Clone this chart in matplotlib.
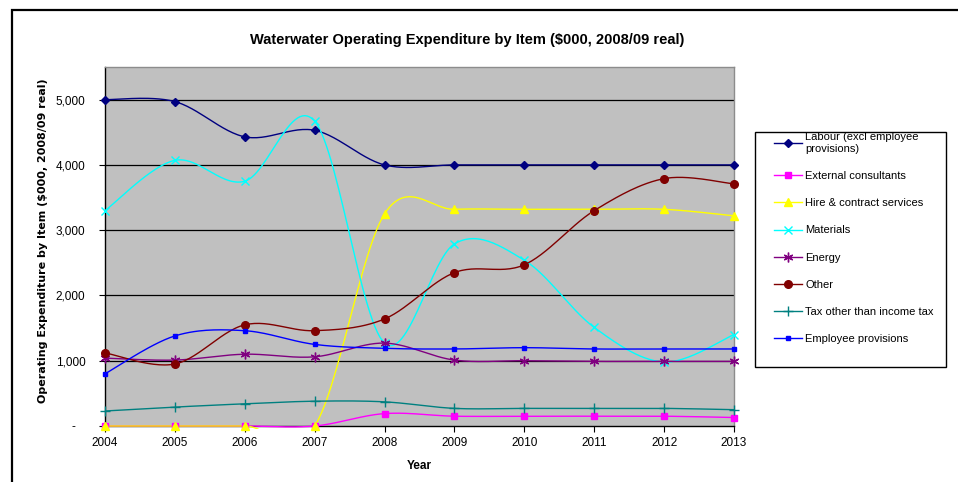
import numpy as np
import matplotlib
matplotlib.use("Agg")
import matplotlib.pyplot as plt
from matplotlib.lines import Line2D
from matplotlib.patches import Rectangle
from matplotlib.ticker import FuncFormatter

plt.rcParams["font.family"] = ["Liberation Sans", "DejaVu Sans"]

years = [2004, 2005, 2006, 2007, 2008, 2009, 2010, 2011, 2012, 2013]

labour = [5000, 4970, 4430, 4530, 4000, 4000, 4000, 4000, 4000, 4000]
external = [0, 0, 0, 0, 190, 150, 150, 150, 150, 130]
hire = [0, 0, 0, 0, 3250, 3320, 3320, 3320, 3320, 3220]
materials = [3300, 4070, 3750, 4670, 1270, 2790, 2540, 1510, 980, 1400]
energy = [1040, 1010, 1100, 1060, 1270, 1010, 1000, 990, 990, 990]
other = [1120, 950, 1550, 1460, 1640, 2350, 2470, 3300, 3790, 3710]
tax = [230, 290, 340, 380, 370, 270, 270, 270, 270, 250]
employee = [800, 1380, 1460, 1250, 1190, 1180, 1200, 1180, 1180, 1180]

series = [
    ("Labour (excl employee\nprovisions)", labour, "#000080", "D", 4.5),
    ("External consultants", external, "#FF00FF", "s", 5),
    ("Hire & contract services", hire, "#FFFF00", "^", 6),
    ("Materials", materials, "#00FFFF", "x", 6),
    ("Energy", energy, "#800080", (6, 2, 0), 7),
    ("Other", other, "#800000", "o", 5.5),
    ("Tax other than income tax", tax, "#008080", "+", 7),
    ("Employee provisions", employee, "#0000FF", "s", 2.5),
]

W, H = 958, 482
fig = plt.figure(figsize=(W / 100, H / 100), dpi=100)
fig.patch.set_facecolor("white")

# outer chart frame
fig.patches.append(Rectangle((12 / W, -0.1), 1.2, 1 - 10 / H + 0.1,
                             transform=fig.transFigure, fill=False,
                             edgecolor="black", linewidth=1.6, zorder=0))

ax = fig.add_axes([105 / W, 1 - 426 / H, (734 - 105) / W, (426 - 67) / H])
ax.set_facecolor("#C0C0C0")
ax.set_xlim(2004, 2013)
ax.set_ylim(0, 5500)

# lines are clipped to the plot area, with a little room below the baseline
clip_rect = Rectangle((0, -0.008), 1, 1.008, transform=ax.transAxes,
                      visible=False)
ax.add_patch(clip_rect)


def smooth(xs, ys, xscale=70.0, yscale=0.0651, n=30):
    """Bezier smoothing of a polyline, computed in screen-like units."""
    px = np.asarray(xs, float) * xscale
    py = np.asarray(ys, float) * yscale
    pts = np.column_stack([px, py])
    out = []
    t = np.linspace(0, 1, n)[:, None]
    for i in range(len(pts) - 1):
        p0 = pts[max(i - 1, 0)]
        p1 = pts[i]
        p2 = pts[i + 1]
        p3 = pts[min(i + 2, len(pts) - 1)]
        c1 = p1 + (p2 - p0) / 6.0
        c2 = p2 - (p3 - p1) / 6.0
        seg = ((1 - t) ** 3) * p1 + 3 * ((1 - t) ** 2) * t * c1 \
            + 3 * (1 - t) * t ** 2 * c2 + t ** 3 * p2
        out.append(seg if i == 0 else seg[1:])
    c = np.vstack(out)
    return c[:, 0] / xscale, c[:, 1] / yscale


for yv in [1000, 2000, 3000, 4000, 5000]:
    ax.axhline(yv, color="black", linewidth=0.9, zorder=1)

handles = []
for name, vals, col, mk, ms in series:
    sx, sy = smooth(years, vals)
    ln, = ax.plot(sx, sy, color=col, linewidth=1.0, zorder=3)
    ln.set_clip_path(clip_rect)
    ax.plot(years, vals, linestyle="none", marker=mk, markersize=ms,
            color=col, markeredgecolor=col, markeredgewidth=1.0,
            zorder=4, clip_on=False)
    handles.append(Line2D([], [], color=col, linewidth=1.0, marker=mk,
                          markersize=ms, markeredgecolor=col,
                          markeredgewidth=1.0, label=name))

ax.set_xticks(years)
ax.set_yticks([0, 1000, 2000, 3000, 4000, 5000])
ax.yaxis.set_major_formatter(FuncFormatter(
    lambda v, p: "-   " if v == 0 else f"{int(v):,}"))
ax.tick_params(axis="both", labelsize=8.5, length=4, width=0.8,
               color="black", direction="out", pad=4)
ax.tick_params(axis="y", pad=10)
for s in ["left", "bottom"]:
    ax.spines[s].set_color("black")
    ax.spines[s].set_linewidth(1.0)
for s in ["top", "right"]:
    ax.spines[s].set_color("#8C8C8C")
    ax.spines[s].set_linewidth(1.0)

fig.text(467 / W, 1 - 40 / H,
         "Waterwater Operating Expenditure by Item ($000, 2008/09 real)",
         ha="center", va="center", fontsize=10.5, fontweight="bold")
fig.text(419 / W, 1 - 466 / H, "Year", ha="center", va="center",
         fontsize=8.5, fontweight="bold")
fig.text(43 / W, 1 - 241 / H,
         "Operating Expenditure by Item ($000, 2008/09 real)",
         ha="center", va="center", rotation=90, fontsize=8,
         fontweight="bold", family=["DejaVu Sans"])

# legend box
fig.patches.append(Rectangle((755 / W, 1 - 367 / H), (946 - 755) / W,
                             (367 - 132) / H, transform=fig.transFigure,
                             facecolor="white", edgecolor="black",
                             linewidth=1.0, zorder=1))
fig.legend(handles=handles, loc="upper left",
           bbox_to_anchor=(772 / W, 1 - 130 / H), frameon=False,
           fontsize=8, handlelength=2.5, handletextpad=0.3,
           labelspacing=1.55, borderpad=0.2, borderaxespad=0)

fig.savefig("out.png", dpi=100)
